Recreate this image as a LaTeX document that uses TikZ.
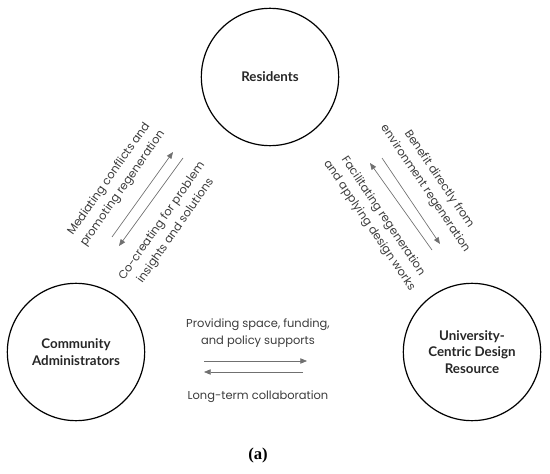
\documentclass[tikz,border=0pt]{standalone}
\usepackage{fontspec}
\usepackage{xcolor}
\usepackage{tikz}
\usetikzlibrary{arrows.meta,positioning}
\newfontfamily\labelfont{Poppins}
\newfontfamily\actorfont{Lato}
\newfontfamily\capfont{Liberation Serif}
\definecolor{inkgray}{HTML}{3C3C3C}
\definecolor{linegray}{HTML}{707070}
\tikzset{
  actornode/.style={draw=black,circle,line width=0.9pt,minimum size=103pt,inner sep=0pt,font=\actorfont\bfseries\fontsize{10}{12.5}\selectfont,align=center,text=black!85},
  relarrow/.style={-{Triangle[length=5pt,width=4pt]},draw=linegray,line width=0.5pt},
  rellabel/.style={font=\labelfont\fontsize{8.6}{12.5}\selectfont,text=inkgray,align=center,inner sep=0pt},
}

\begin{document}
\begin{tikzpicture}[x=0.75pt,y=-0.75pt]
        \useasboundingbox (0,0) rectangle (550,474);
        \node[actornode] (res) at (270,77) {Residents};
        \node[actornode] (adm) at (76,352) {Community\\Administrators};
        \node[actornode] (uni) at (472,352) {University-\\Centric Design\\Resource};
        % arrow ends
        \coordinate (ml1) at (112,237); \coordinate (ml2) at (173,152);
        \coordinate (ml3) at (183,158); \coordinate (ml4) at (119,246);
        \coordinate (mr1) at (432,250); \coordinate (mr2) at (370,163);
        \coordinate (mr3) at (382,158); \coordinate (mr4) at (440,244);
        \coordinate (mb1) at (204,361); \coordinate (mb2) at (307,361);
        \coordinate (mb3) at (303,372); \coordinate (mb4) at (204,372);
        \draw[relarrow] (ml1)--(ml2); \draw[relarrow] (ml3)--(ml4);
        \draw[relarrow] (mr1)--(mr2); \draw[relarrow] (mr3)--(mr4);
        \draw[relarrow] (mb1)--(mb2); \draw[relarrow] (mb3)--(mb4);
        % labels
        \node[rellabel,rotate=55] (mediate) at (116,184) {Mediating conflicts and\\promoting regeneration};
        \node[rellabel,rotate=55] (cocreate) at (169,226) {Co-creating for problem\\insights and solutions};
        \node[rellabel,rotate=-56] (benefit) at (432,184) {Benefit directly from\\environment regeneration};
        \node[rellabel,rotate=-56] (facilitate) at (376,221) {Facilitating regeneration\\and applying design works};
        \node[rellabel] (support) at (258,333) {Providing space, funding,\\and policy supports};
        \node[rellabel] (collab) at (258,397) {Long-term collaboration};
        \node[font=\capfont\bfseries\fontsize{12.5}{14}\selectfont] (cap) at (258,455) {(a)};
      \end{tikzpicture}
\end{document}
